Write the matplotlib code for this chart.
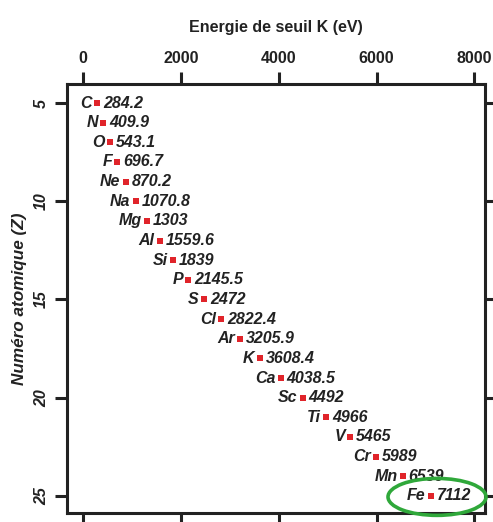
import matplotlib
matplotlib.use("Agg")
import matplotlib.pyplot as plt
from matplotlib.patches import Ellipse

elements = ["C", "N", "O", "F", "Ne", "Na", "Mg", "Al", "Si", "P", "S",
            "Cl", "Ar", "K", "Ca", "Sc", "Ti", "V", "Cr", "Mn", "Fe"]
energies = [284.2, 409.9, 543.1, 696.7, 870.2, 1070.8, 1303, 1559.6, 1839,
            2145.5, 2472, 2822.4, 3205.9, 3608.4, 4038.5, 4492, 4966, 5465,
            5989, 6539, 7112]
energy_labels = ["284.2", "409.9", "543.1", "696.7", "870.2", "1070.8", "1303",
                 "1559.6", "1839", "2145.5", "2472", "2822.4", "3205.9",
                 "3608.4", "4038.5", "4492", "4966", "5465", "5989", "6539",
                 "7112"]
positions = [5, 6, 7, 8, 9, 10, 11, 12, 13, 14, 15, 16, 17, 18, 19, 20, 21,
             22, 23, 24, 25]
x_ticks = [0, 2000, 4000, 6000, 8000]
y_ticks = [5, 10, 15, 20, 25]

plt.rcParams['font.family'] = ['Liberation Sans', 'DejaVu Sans']
dark = '#222222'

fig = plt.figure(figsize=(4.93, 5.22), dpi=100)
ax = fig.add_axes([0.1359, 0.01724, 0.8479, 0.8218])

ax.plot(energies, positions, linestyle='none', marker='s', markersize=4.2,
        color='#e0242a', markeredgewidth=0)

for el, e, lab, p in zip(elements, energies, energy_labels, positions):
    ax.annotate(el, (e, p), xytext=(-3.8, 0), textcoords='offset points',
                ha='right', va='center', fontsize=11.5, fontweight='bold',
                fontstyle='italic', color=dark)
    ax.annotate(lab, (e, p), xytext=(4.2, 0), textcoords='offset points',
                ha='left', va='center', fontsize=11.5, fontweight='bold',
                fontstyle='italic', color=dark)

ax.set_xlim(-333, 8219)
ax.set_ylim(25.87, 4.03)

ax.set_xticks(x_ticks)
ax.set_yticks(y_ticks)
ax.tick_params(axis='both', which='major', direction='out', length=9,
               width=2.2, color=dark, labelcolor=dark)
ax.tick_params(axis='x', top=True, bottom=True, labeltop=True,
               labelbottom=False, labelsize=11.5, pad=4)
ax.tick_params(axis='y', left=True, right=True, labelleft=True,
               labelright=False, labelsize=11.5, pad=4)
for lbl in ax.get_xticklabels():
    lbl.set_fontweight('bold')
for lbl in ax.get_yticklabels():
    lbl.set_fontweight('bold')
    lbl.set_fontstyle('italic')
    lbl.set_rotation(90)
    lbl.set_va('center')

for s in ax.spines.values():
    s.set_linewidth(2.2)
    s.set_color(dark)

ax.xaxis.set_label_position('top')
ax.set_xlabel('Energie de seuil K (eV)', fontsize=11.5, fontweight='bold',
              color=dark, labelpad=14)
ax.set_ylabel('Numéro atomique (Z)', fontsize=12.3, fontweight='bold',
              fontstyle='italic', color=dark, labelpad=5)

ell = Ellipse((7237, 25.05), 2005, 1.88, fill=False, edgecolor='#2fa83a',
              linewidth=2.6, clip_on=False, zorder=5)
ax.add_patch(ell)

fig.savefig('out.png', dpi=100)
